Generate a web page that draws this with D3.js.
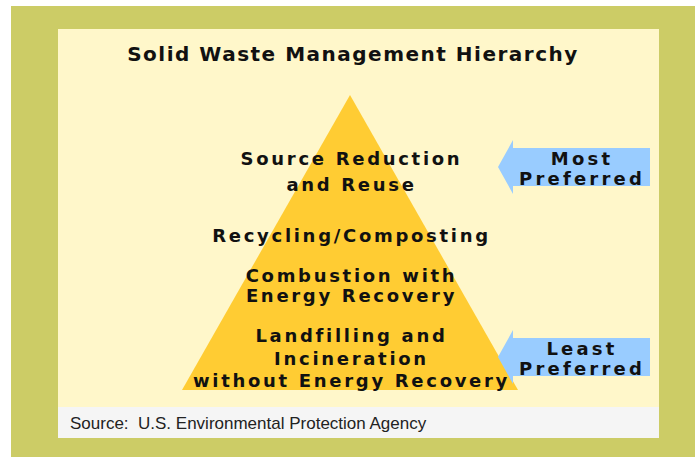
<!DOCTYPE html>
<html>
<head>
<meta charset="utf-8">
<script src="https://cdn.jsdelivr.net/npm/d3@7"></script>
<style>
  body { margin: 0; background: #fff; }
  .tier, .title, .arrow-label { font-family: "DejaVu Sans", sans-serif; font-weight: bold; fill: #111; }
  .source { font-family: "Liberation Sans", Arial, sans-serif; fill: #222; white-space: pre; }
</style>
</head>
<body>
<div id="chart"></div>
<script>
// chart content
const title = "Solid Waste Management Hierarchy";
const tiers = [
    ["Source Reduction", "and Reuse"],
    ["Recycling/Composting"],
    ["Combustion with", "Energy Recovery"],
    ["Landfilling and", "Incineration", "without Energy Recovery"]
];
const arrowLabels = [
    ["Most", "Preferred"],
    ["Least", "Preferred"]
];
const source = "Source:  U.S. Environmental Protection Agency";

const W = 698, H = 457;

const svg = d3.select("#chart").append("svg")
    .attr("width", W)
    .attr("height", H);

// olive frame
svg.append("rect")
    .attr("x", 11).attr("y", 6)
    .attr("width", 684).attr("height", 451)
    .attr("fill", "#CCCC66");

// light panel
svg.append("rect")
    .attr("x", 58).attr("y", 29)
    .attr("width", 601).attr("height", 378)
    .attr("fill", "#FFF7CA");

// source bar
svg.append("rect")
    .attr("x", 58).attr("y", 407)
    .attr("width", 601).attr("height", 31)
    .attr("fill", "#F5F5F5");

svg.append("text")
    .attr("class", "source")
    .attr("x", 70).attr("y", 429)
    .attr("font-size", 17)
    .text(source);

svg.append("text")
    .attr("class", "title")
    .attr("x", 353).attr("y", 61)
    .attr("text-anchor", "middle")
    .attr("font-size", 20)
    .attr("letter-spacing", 1.5)
    .text(title);

// pyramid scales: 0 = apex, 1 = base
const cx = 350;
const y = d3.scaleLinear().domain([0, 1]).range([95, 390]);
const halfW = d3.scaleLinear().domain([0, 1]).range([0, 168]);

const tri = [[cx, y(0)], [cx - halfW(1), y(1)], [cx + halfW(1), y(1)]];
svg.append("path")
    .attr("d", d3.line()(tri) + "Z")
    .attr("fill", "#FFCC33");

// tier text layout: first baseline of each tier, line step
const tierStart = [165, 242, 282, 342];
const lineStep = [26, 22, 20, 22.5];

tiers.forEach((lines, i) => {
    svg.append("text")
        .attr("class", "tier")
        .attr("text-anchor", "middle")
        .attr("font-size", 18)
        .attr("letter-spacing", 2.7)
        .selectAll("tspan")
        .data(lines)
        .join("tspan")
        .attr("x", cx + 1.5)
        .attr("y", (d, j) => tierStart[i] + j * lineStep[i])
        .text(d => d);
});

// arrows
const arrowCenter = [167, 357];
const arrowGeom = {tip: 498, neck: 513, right: 650, shaft: 19, head: 27};

arrowLabels.forEach((lab, i) => {
    const c = arrowCenter[i];
    const g = arrowGeom;
    const pts = [
        [g.tip, c],
        [g.neck, c - g.head],
        [g.neck, c - g.shaft],
        [g.right, c - g.shaft],
        [g.right, c + g.shaft],
        [g.neck, c + g.shaft],
        [g.neck, c + g.head]
    ];
    svg.append("path")
        .attr("d", d3.line()(pts) + "Z")
        .attr("fill", "#99CCFF");

    svg.append("text")
        .attr("class", "arrow-label")
        .attr("text-anchor", "middle")
        .attr("font-size", 18)
        .attr("letter-spacing", 3.2)
        .selectAll("tspan")
        .data(lab)
        .join("tspan")
        .attr("x", 582)
        .attr("y", (d, j) => c - 2 + j * 20)
        .text(d => d);
});
</script>
</body>
</html>
